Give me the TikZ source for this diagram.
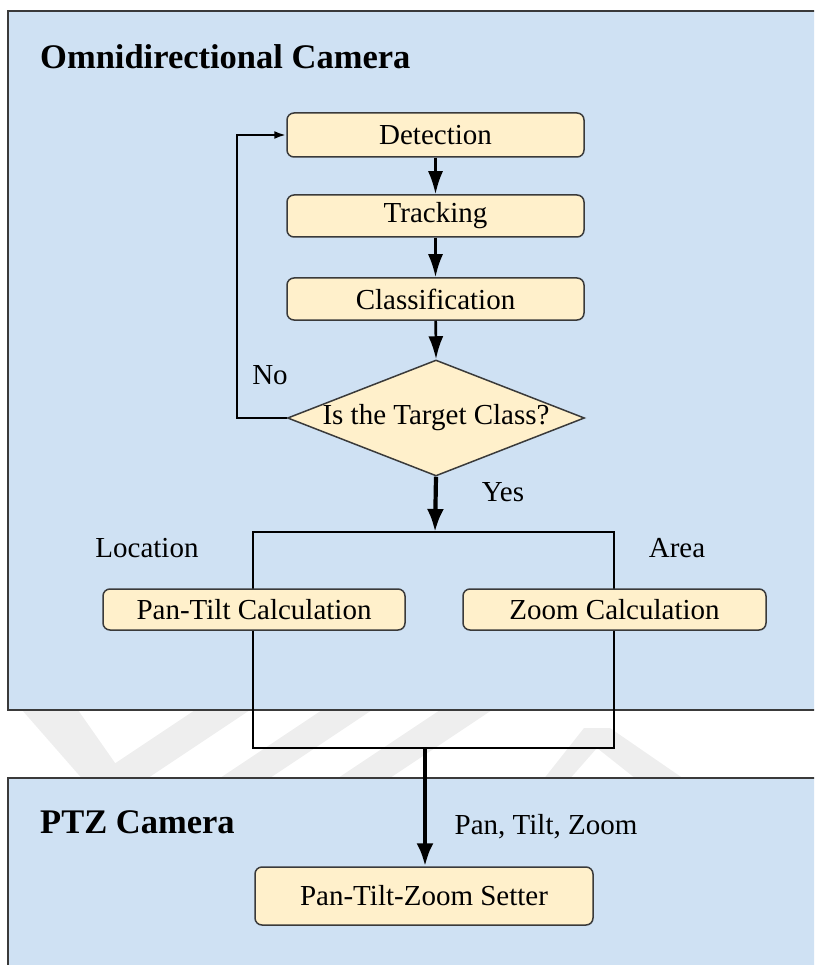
\documentclass[tikz,border=0pt]{standalone}
\usepackage{fontspec}
\setmainfont{Liberation Serif}
\usetikzlibrary{shapes.geometric,arrows.meta}
\definecolor{panelblue}{HTML}{CFE1F3}
\definecolor{boxfill}{HTML}{FFF0CB}
\definecolor{edge}{HTML}{3A3A3A}
\definecolor{wmark}{HTML}{EEEEEE}
\tikzset{
  panel/.style={draw=edge, line width=1.8pt, fill=panelblue},
  procbox/.style={draw=edge, line width=1.5pt, fill=boxfill, rounded corners=7pt,
    inner sep=0pt, font=\fontsize{29}{33}\selectfont},
  decbox/.style={draw=edge, line width=1.5pt, fill=boxfill, diamond, inner sep=0pt,
    minimum width=297pt, minimum height=116pt},
  lbl/.style={inner sep=0pt, font=\fontsize{29}{33}\selectfont},
  ttl/.style={inner sep=0pt, anchor=west, font=\fontsize{34.5}{38}\selectfont\bfseries},
  flow/.style={line width=2.6pt, -{Latex[length=23pt,width=15pt]}},
  thick flow/.style={line width=4.2pt, -{Latex[length=23pt,width=17pt]}},
  loop/.style={line width=2.4pt, -{Latex[length=12pt,width=8pt]}},
  frame/.style={line width=2.8pt},
  wm/.style={fill=wmark, draw=none}
}
\begin{document}
\begin{tikzpicture}[x=1pt,y=-1pt]
\useasboundingbox (0,0) rectangle (814,965);
% faint watermark bands in the gap between the panels
\begin{scope}
\clip (0,710) rectangle (814,778);
\fill[wm] (22,710) -- (78,710) -- (120,770) -- (92,790) -- cycle;
\fill[wm] (195,710) -- (250,710) -- (130,790) -- (75,790) -- cycle;
\fill[wm] (322,710) -- (372,710) -- (252,790) -- (202,790) -- cycle;
\fill[wm] (440,710) -- (492,710) -- (372,790) -- (320,790) -- cycle;
\fill[wm] (584,728) -- (610,728) -- (700,790) -- (650,790) -- (597,748) -- (560,790) -- (535,790) -- cycle;
\end{scope}
\begin{scope}
\clip (0,0) rectangle (814,965);
\draw[panel] (8,11) rectangle (840,710);
\draw[panel] (8,778) rectangle (840,990);
\end{scope}

\node[ttl] (t1) at (40,57) {Omnidirectional Camera};
\node[ttl] (t2) at (40,822) {PTZ Camera};

\node[procbox, minimum width=297pt, minimum height=44pt] (det) at (435.5,135) {Detection};
\node[procbox, minimum width=297pt, minimum height=42pt] (trk) at (435.5,216) {Tracking};
\node[procbox, minimum width=297pt, minimum height=42pt] (cls) at (435.5,299) {Classification};
\node[decbox] (dec) at (436,418) {};
\node[lbl] (dect) at (dec.center) {Is the Target Class?};

\draw[flow] (det) -- (trk);
\draw[flow] (trk) -- (cls);
\draw[flow] (cls) -- (dec.north);

\coordinate (lp) at (237,418);
\draw[loop] (dec.west) -- (lp) |- (det.west);
\node[lbl] (no) at (270,375) {No};

\coordinate (rtop) at (435,532);
\coordinate (rtl) at (253,532);
\coordinate (rtr) at (614,532);
\coordinate (rbl) at (253,748);
\coordinate (rbr) at (614,748);
\draw[frame] (rtl) -- (rtr) -- (rbr) -- (rbl) -- cycle;
\draw[thick flow] (dec.south) -- (rtop);
\node[lbl] (yes) at (503,492) {Yes};

\node[lbl] (loc) at (147,548) {Location};
\node[lbl] (area) at (677,548) {Area};
\node[procbox, minimum width=302pt, minimum height=41pt] (pt) at (254,609.5) {Pan-Tilt Calculation};
\node[procbox, minimum width=303pt, minimum height=41pt] (zc) at (614.5,609.5) {Zoom Calculation};

\node[procbox, minimum width=338pt, minimum height=58pt] (set) at (424,896) {Pan-Tilt-Zoom Setter};
\coordinate (rb) at (425,748);
\draw[thick flow] (rb) -- (rb |- set.north);
\node[lbl] (ptz) at (546,827) {Pan, Tilt, Zoom};
\end{tikzpicture}
\end{document}
